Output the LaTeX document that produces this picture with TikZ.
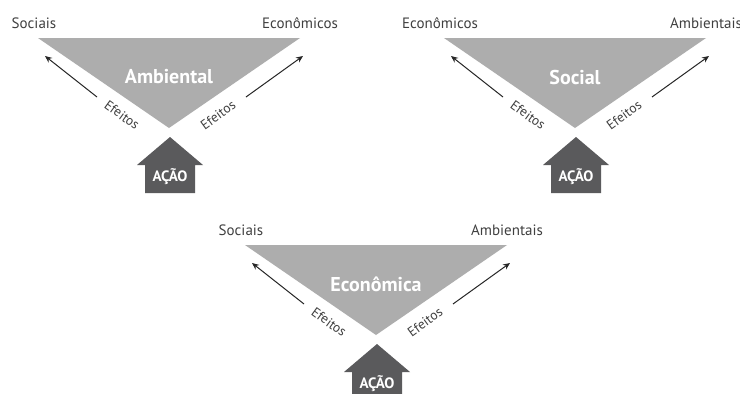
\documentclass[tikz,border=0pt]{standalone}
\usepackage{fontspec}
\setmainfont{PT Sans}
\usetikzlibrary{arrows.meta}
\definecolor{trigray}{HTML}{ADADAD}
\definecolor{actgray}{HTML}{5A5A5C}
\definecolor{labgray}{HTML}{404040}
\tikzset{
  tri/.style={fill=trigray},
  title/.style={text=white,font=\bfseries\fontsize{20}{24}\selectfont,inner sep=0pt},
  corner/.style={text=labgray,font=\fontsize{15}{18}\selectfont,inner sep=0pt},
  eff/.style={text=labgray,font=\fontsize{13.5}{16}\selectfont,inner sep=0pt},
  effarrow/.style={draw=black!85,line width=1pt,-{Stealth[length=7pt,width=6pt]}},
  actshape/.style={fill=actgray},
  acttext/.style={text=white,font=\bfseries\fontsize{15}{18}\selectfont,inner sep=0pt}
}
\newcommand\tripanel[6]{%
  \begin{scope}[shift={(#2,#3)}]
    \fill[tri] (38,38) -- (300,38) -- (169,128) -- cycle;
    \node[title] (#1t) at (169,77) {#4};
    \node[corner] (#1l) at (34,23) {#5};
    \node[corner] (#1r) at (300,23) {#6};
    \coordinate (#1la) at (97,97);
    \coordinate (#1lb) at (45,56);
    \coordinate (#1ra) at (246,97);
    \coordinate (#1rb) at (303,56);
    \draw[effarrow] (#1la) -- (#1lb);
    \draw[effarrow] (#1ra) -- (#1rb);
    \node[eff,rotate=-36] (#1el) at (122,115) {Efeitos};
    \node[eff,rotate=36] (#1er) at (218,115) {Efeitos};
    \fill[actshape] (170,137) -- (203,165) -- (195,165) -- (195,193) -- (145,193) -- (145,165) -- (137,165) -- cycle;
    \node[acttext] (#1a) at (170,177) {AÇÃO};
  \end{scope}}
\begin{document}
\begin{tikzpicture}[x=1pt,y=-1pt]
  \fill[white] (0,0) rectangle (740,394);
  \useasboundingbox (0,0) rectangle (740,394);
  \tripanel{p}{0}{0}{Ambiental}{Sociais}{Econômicos}
  \tripanel{q}{406}{0}{Social}{Econômicos}{Ambientais}
  \tripanel{s}{207}{207}{Econômica}{Sociais}{Ambientais}
\end{tikzpicture}
\end{document}
